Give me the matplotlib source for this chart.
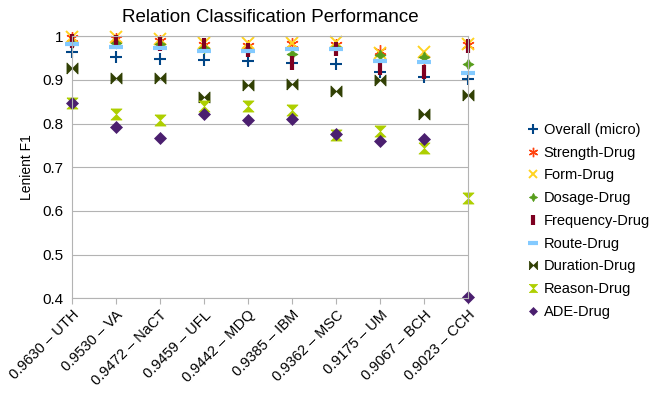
import matplotlib
matplotlib.use("Agg")
import matplotlib.pyplot as plt
from matplotlib.path import Path

plt.rcParams["font.family"] = ["Liberation Sans", "DejaVu Sans"]

# Data
sites = ["UTH", "VA", "NaCT", "UFL", "MDQ", "IBM", "MSC", "UM", "BCH", "CCH"]
overall = [0.9630, 0.9530, 0.9472, 0.9459, 0.9442, 0.9385, 0.9362, 0.9175, 0.9067, 0.9023]
strength = [0.995, 0.993, 0.990, 0.979, 0.977, 0.981, 0.980, 0.967, 0.948, 0.980]
form = [0.998, 0.997, 0.993, 0.984, 0.984, 0.984, 0.987, 0.962, 0.964, 0.982]
dosage = [0.985, 0.984, 0.981, 0.972, 0.968, 0.960, 0.975, 0.958, 0.952, 0.937]
frequency = [0.988, 0.987, 0.983, 0.979, 0.969, 0.938, 0.971, 0.928, 0.918, 0.977]
route = [0.983, 0.976, 0.974, 0.966, 0.966, 0.970, 0.970, 0.944, 0.941, 0.915]
duration = [0.926, 0.905, 0.905, 0.860, 0.889, 0.890, 0.874, 0.899, 0.821, 0.865]
reason = [0.848, 0.821, 0.809, 0.841, 0.839, 0.831, 0.773, 0.784, 0.743, 0.629]
ade = [0.848, 0.791, 0.766, 0.821, 0.808, 0.811, 0.777, 0.760, 0.764, 0.403]

labels = [f"{o:.4f} – {s}" for o, s in zip(overall, sites)]

# custom marker shapes
bowtie = Path([(-1, -1), (0, 0), (1, -1), (1, 1), (0, 0), (-1, 1), (-1, -1)])
hourglass = Path([(-1, 1), (1, 1), (0, 0), (1, -1), (-1, -1), (0, 0), (-1, 1)])

series = [
    ("Overall (micro)", overall, "#004586", "+", 9, 1.5),
    ("Strength-Drug", strength, "#ff420e", (6, 2, 0), 9, 1.0),
    ("Form-Drug", form, "#ffd320", "x", 8, 1.4),
    ("Dosage-Drug", dosage, "#579d1c", (4, 1, 0), 8, 0.5),
    ("Frequency-Drug", frequency, "#7e0021", "|", 10, 3.0),
    ("Route-Drug", route, "#83caff", "_", 10, 3.0),
    ("Duration-Drug", duration, "#314004", bowtie, 8, 0.5),
    ("Reason-Drug", reason, "#aecf00", hourglass, 8, 0.5),
    ("ADE-Drug", ade, "#4b1f6f", "D", 6, 0.5),
]

fig = plt.figure(figsize=(6.5, 3.93), dpi=100)
ax = fig.add_axes([0.110, 0.241, 0.6105, 0.667])

x = list(range(len(sites)))
for name, vals, color, marker, ms, mew in series:
    ax.plot(x, vals, linestyle="none", marker=marker, color=color,
            markersize=ms, markeredgewidth=mew, label=name, clip_on=False)

ax.set_xlim(0, len(sites) - 1)
ax.set_ylim(0.4, 1.0)
ax.set_yticks([0.4, 0.5, 0.6, 0.7, 0.8, 0.9, 1.0])
ax.set_yticklabels(["0.4", "0.5", "0.6", "0.7", "0.8", "0.9", "1"], fontsize=11)
ax.set_xticks(x)
ax.set_xticklabels(labels, rotation=45, ha="right", rotation_mode="anchor", fontsize=10.5)
ax.tick_params(axis="x", length=4, color="#b3b3b3", pad=3)
ax.tick_params(axis="y", length=0, pad=6)

ax.grid(True, axis="y", color="#b3b3b3", linewidth=0.8)
ax.set_axisbelow(True)
for sp in ["left", "bottom", "right", "top"]:
    ax.spines[sp].set_color("#b3b3b3")
    ax.spines[sp].set_linewidth(0.8)

ax.set_title("Relation Classification Performance", fontsize=13.5, pad=10)
ax.set_ylabel("Lenient F1", fontsize=10, labelpad=6)

ax.legend(loc="center left", bbox_to_anchor=(1.135, 0.295), frameon=False,
          fontsize=10.5, markerscale=0.75, handlelength=0.7, handletextpad=0.4,
          labelspacing=0.6, borderaxespad=0)

fig.savefig("out.png", dpi=100)
